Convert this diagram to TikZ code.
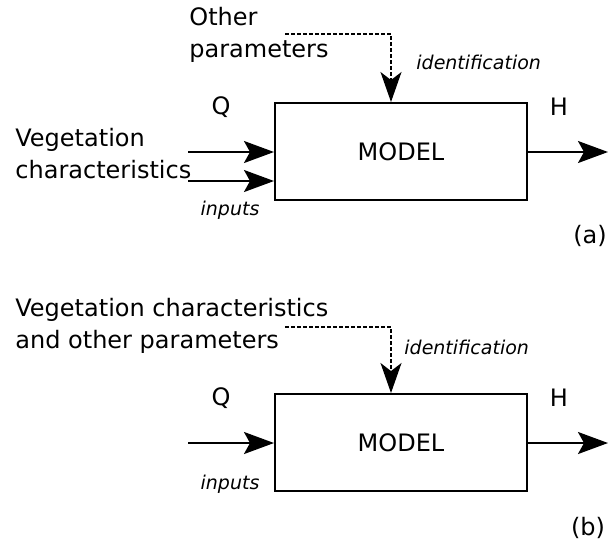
\documentclass[tikz,border=0pt]{standalone}
\usepackage{fontspec}
\setmainfont{DejaVu Sans}
\usetikzlibrary{arrows.meta}

\begin{document}
\begin{tikzpicture}[
x=0.5pt, y=-0.5pt,
modelbox/.style={draw=black, line width=1pt, minimum width=126pt, minimum height=48.5pt, inner sep=0pt, font=\fontsize{12}{16}\selectfont},
txt/.style={inner sep=0pt, align=left, font=\fontsize{12}{16}\selectfont},
itxt/.style={inner sep=0pt, font=\fontsize{9.5}{11}\selectfont\itshape},
flow/.style={line width=1pt, -{Stealth[length=15pt, width=11pt, inset=3pt]}},
idflow/.style={line width=0.7pt, dash pattern=on 2pt off 1pt, -{Stealth[length=15pt, width=10.5pt, inset=4pt]}}
]
    \useasboundingbox (0,0) rectangle (609,543);

    % (a)
    \node [modelbox] (boxA) at (401,151.5) {MODEL};
    \node [txt, anchor=west] (parA) at (189,35) {Other\\parameters};
    \node [txt, anchor=west] (vegA) at (15,154) {Vegetation\\characteristics};
    \node [itxt, anchor=west] (idA) at (416,62) {identification};
    \node [txt] (qA) at (221,107) {Q};
    \node [txt] (hA) at (559,107) {H};
    \node [itxt] (inA) at (230,210) {inputs};
    \node [txt] (labA) at (590,236) {(a)};

    \coordinate (inA1) at (188,152);
    \coordinate (inA2) at (188,181);
    \coordinate (outA) at (608,152);
    \coordinate (startA) at (285,34);
    \coordinate (topA) at (391,0);
    \draw [flow] (inA1) -- (inA1 -| boxA.west);
    \draw [flow] (inA2) -- (inA2 -| boxA.west);
    \draw [flow] (outA -| boxA.east) -- (outA);
    \draw [idflow] (startA) -| (topA |- boxA.north);

    % (b)
    \node [modelbox] (boxB) at (401,442.5) {MODEL};
    \node [txt, anchor=west] (parB) at (15,326) {Vegetation characteristics\\and other parameters};
    \node [itxt, anchor=west] (idB) at (404,347) {identification};
    \node [txt] (qB) at (221,398) {Q};
    \node [txt] (hB) at (559,398) {H};
    \node [itxt] (inB) at (230,484) {inputs};
    \node [txt] (labB) at (588,528) {(b)};

    \coordinate (inB1) at (188,443);
    \coordinate (outB) at (608,443);
    \coordinate (startB) at (285,327);
    \coordinate (topB) at (391,0);
    \draw [flow] (inB1) -- (inB1 -| boxB.west);
    \draw [flow] (outB -| boxB.east) -- (outB);
    \draw [idflow] (startB) -| (topB |- boxB.north);
\end{tikzpicture}
\end{document}
